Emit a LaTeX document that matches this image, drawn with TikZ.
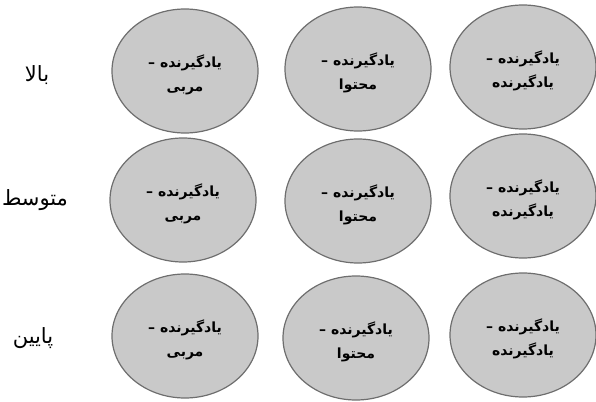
\documentclass[tikz,border=0pt]{standalone}
\usepackage{fontspec}
\usetikzlibrary{shapes.geometric}
\TeXXeTstate=1
\newfontfamily\arabicfont[Script=Arabic]{DejaVu Sans}
\definecolor{cellfill}{HTML}{C9C9C9}
\definecolor{celledge}{HTML}{6E6E6E}
\tikzset{
  cell/.style={ellipse, draw=celledge, line width=1.2pt, fill=cellfill,
    minimum width=146pt, minimum height=124pt, inner sep=0pt},
  celltext/.style={inner sep=0pt, align=center,
    font=\arabicfont\bfseries\fontsize{14}{24}\selectfont},
  rowlabel/.style={inner sep=0pt, font=\arabicfont\fontsize{21}{24}\selectfont}
}
\newcommand{\rtl}[1]{\beginR #1\endR}
\newcommand{\cellpair}[3]{%
  \node[cell] (#1) at (#2) {};
  \node[celltext] (#1t) at ([yshift=-4pt]#1.center) {\rtl{یادگیرنده –}\\\rtl{#3}};
}
\begin{document}
\begin{tikzpicture}[x=1pt,y=-1pt]
\useasboundingbox (0,0) rectangle (596,401);
% row 1
\cellpair{a1}{185,71}{مربی}
\cellpair{a2}{358,69}{محتوا}
\cellpair{a3}{523,67}{یادگیرنده}
% row 2
\cellpair{b1}{183,200}{مربی}
\cellpair{b2}{358,201}{محتوا}
\cellpair{b3}{523,196}{یادگیرنده}
% row 3
\cellpair{c1}{185,336}{مربی}
\cellpair{c2}{356,338}{محتوا}
\cellpair{c3}{523,335}{یادگیرنده}
% row labels
\node[rowlabel] (l1) at (37,75) {\rtl{بالا}};
\node[rowlabel] (l2) at (35,200) {\rtl{متوسط}};
\node[rowlabel] (l3) at (33,338) {\rtl{پایین}};
\end{tikzpicture}
\end{document}
